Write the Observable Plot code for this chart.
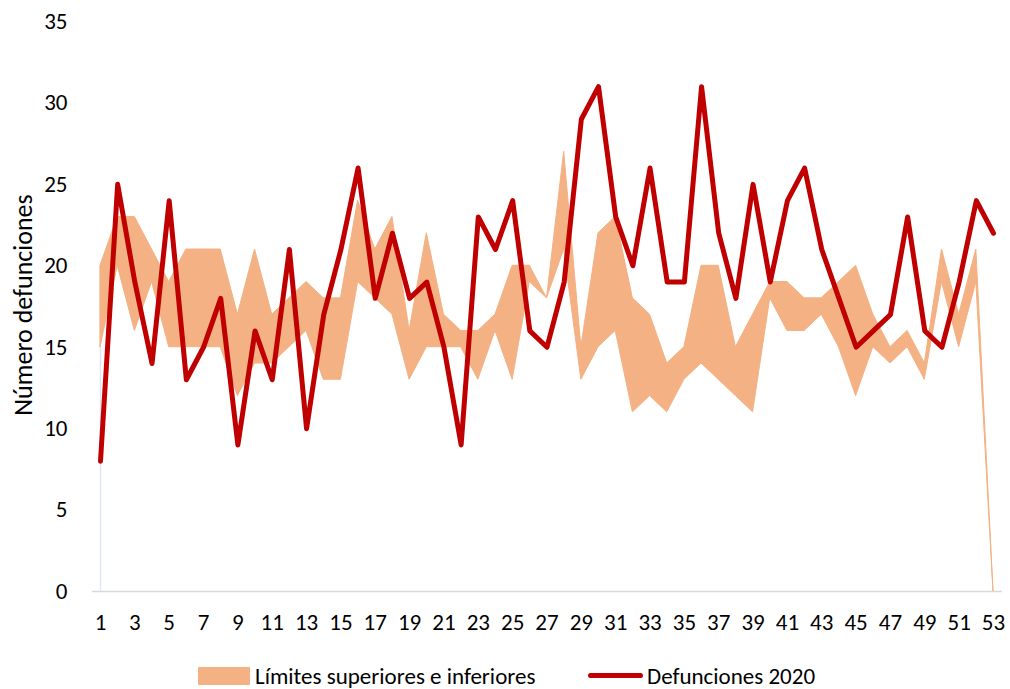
<!DOCTYPE html>
<html>
<head>
<meta charset="utf-8">
<script src="https://cdn.jsdelivr.net/npm/d3@7"></script>
<script src="https://cdn.jsdelivr.net/npm/@observablehq/plot@0.6"></script>
<style>
  html, body { margin: 0; padding: 0; background: #fff; }
  #wrap { position: relative; width: 1010px; height: 689px; font-family: Carlito, Calibri, "Open Sans", sans-serif; color: #000; }
  #legend { position: absolute; left: 0; top: 640px; width: 1010px; height: 49px; font-size: 23px; }
  .sw { position: absolute; }
  .lt { position: absolute; top: 21px; line-height: 30px; white-space: nowrap; }
</style>
</head>
<body>
<div id="wrap">
  <div id="chart"></div>
  <div id="legend">
    <div class="sw" style="left:198px; top:27px; width:52px; height:18px; background:#F4B183;"></div>
    <div class="lt" id="lt1" style="left:255px;"></div>
    <div class="sw" style="left:588px; top:33px; width:55px; height:5px; border-radius:2.5px; background:#C00000;"></div>
    <div class="lt" id="lt2" style="left:647px;"></div>
  </div>
</div>
<script>
// ---- Data ----
const weeks = [1,2,3,4,5,6,7,8,9,10,11,12,13,14,15,16,17,18,19,20,21,22,23,24,25,26,27,28,29,30,31,32,33,34,35,36,37,38,39,40,41,42,43,44,45,46,47,48,49,50,51,52,53];
const deaths2020 = [8,25,19,14,24,13,15,18,9,16,13,21,10,17,21,26,18,22,18,19,15,9,23,21,24,16,15,19,29,31,23,20,26,19,19,31,22,18,25,19,24,26,21,18,15,16,17,23,16,15,19,24,22];
const upperLimit = [20,23,23,21,19,21,21,21,17,21,17,18,19,18,18,24,21,23,16,22,17,16,16,17,20,20,18,27,15,22,23,18,17,14,15,20,20,15,17,19,19,18,18,19,20,17,15,16,14,21,17,21,0];
const lowerLimit = [15,20,16,19,15,15,15,15,12,14,14,15,16,13,13,19,18,17,13,15,15,15,13,16,13,19,18,21,13,15,16,11,12,11,13,14,13,12,11,18,16,16,17,15,12,15,14,15,13,19,15,19,0];
const xTicks = [1,3,5,7,9,11,13,15,17,19,21,23,25,27,29,31,33,35,37,39,41,43,45,47,49,51,53];
const yTicks = [0,5,10,15,20,25,30,35];
const yLabel = "Número defunciones";
const legendBand = "Límites superiores e inferiores";
const legendLine = "Defunciones 2020";

const table = weeks.map((w, i) => ({week: w, deaths: deaths2020[i], upper: upperLimit[i], lower: lowerLimit[i]}));

const font = 'Carlito, Calibri, "Open Sans", sans-serif';

const chart = Plot.plot({
  width: 1010,
  height: 640,
  marginLeft: 100,
  marginRight: 17,
  marginTop: 21,
  marginBottom: 49,
  style: {fontFamily: font, fontSize: "23px", color: "#000", background: "#fff"},
  x: {domain: [1, 53]},
  y: {domain: [0, 35]},
  marks: [
    Plot.ruleY([0], {stroke: "#d9d9d9", strokeWidth: 1.5, insetLeft: -8, insetRight: -9}),
    Plot.ruleX(table.slice(0, 1), {x: "week", y1: 0, y2: "lower", stroke: "#dde7f4", strokeWidth: 1.5}),
    Plot.areaY(table, {x: "week", y1: "lower", y2: "upper", fill: "#F4B183", stroke: "#F4B183", strokeWidth: 1}),
    Plot.lineY(table, {x: "week", y: "deaths", stroke: "#C00000", strokeWidth: 5, strokeLinejoin: "round", strokeLinecap: "round"}),
    Plot.axisX({ticks: xTicks, tickSize: 0, tickPadding: 22, tickFormat: d => String(d), label: null, fontSize: 23}),
    Plot.axisY({ticks: yTicks, tickSize: 0, tickPadding: 33, tickFormat: d => String(d), label: null, fontSize: 23})
  ]
});
document.getElementById("chart").appendChild(chart);

d3.select(chart).append("text")
  .attr("transform", "translate(23,305) rotate(-90)")
  .attr("text-anchor", "middle")
  .attr("dominant-baseline", "central")
  .attr("font-family", font)
  .attr("font-size", 26)
  .attr("fill", "#000")
  .text(yLabel);

document.getElementById("lt1").textContent = legendBand;
document.getElementById("lt2").textContent = legendLine;
</script>
</body>
</html>
